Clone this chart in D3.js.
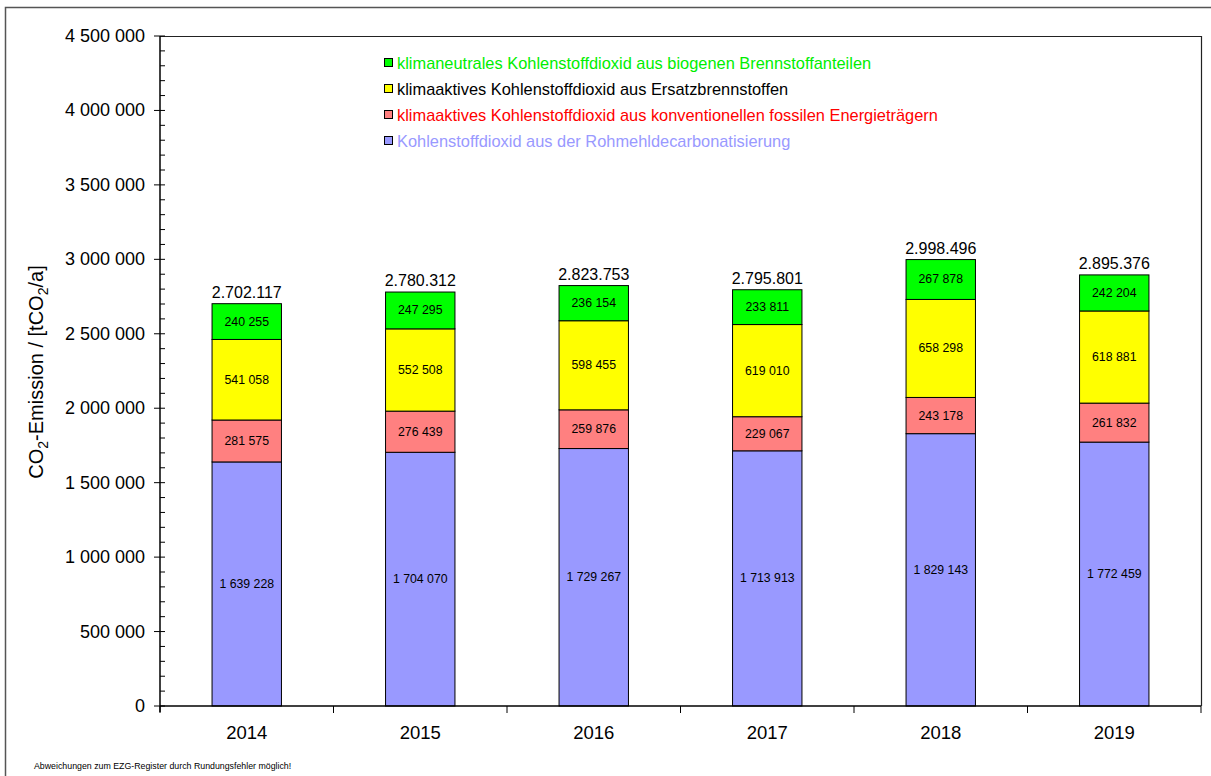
<!DOCTYPE html>
<html>
<head>
<meta charset="utf-8">
<script src="https://cdn.jsdelivr.net/npm/d3@7"></script>
<style>
  body { margin: 0; background: #fff; }
  svg { display: block; font-family: "Liberation Sans", Arial, sans-serif; }
</style>
</head>
<body>
<svg id="chart" width="1211" height="776"></svg>
<script>
// data
var years = ["2014", "2015", "2016", "2017", "2018", "2019"];
var rohmehl = [1639228, 1704070, 1729267, 1713913, 1829143, 1772459];
var fossil = [281575, 276439, 259876, 229067, 243178, 261832];
var ersatz = [541058, 552508, 598455, 619010, 658298, 618881];
var biogen = [240255, 247295, 236154, 233811, 267878, 242204];
var totalLabels = ["2.702.117", "2.780.312", "2.823.753", "2.795.801", "2.998.496", "2.895.376"];
var yTicks = [0, 500000, 1000000, 1500000, 2000000, 2500000, 3000000, 3500000, 4000000, 4500000];

var seriesKeys = ["rohmehl", "fossil", "ersatz", "biogen"];
var fills = { rohmehl: "#9999ff", fossil: "#ff8080", ersatz: "#ffff00", biogen: "#00ff00" };
var legendItems = [
  { key: "biogen", text: "klimaneutrales Kohlenstoffdioxid aus biogenen Brennstoffanteilen", color: "#00ee00" },
  { key: "ersatz", text: "klimaaktives Kohlenstoffdioxid aus Ersatzbrennstoffen", color: "#000000" },
  { key: "fossil", text: "klimaaktives Kohlenstoffdioxid aus konventionellen fossilen Energieträgern", color: "#ff0000" },
  { key: "rohmehl", text: "Kohlenstoffdioxid aus der Rohmehldecarbonatisierung", color: "#9999ff" }
];

var rows = years.map(function (yr, i) {
  return { year: yr, rohmehl: rohmehl[i], fossil: fossil[i], ersatz: ersatz[i], biogen: biogen[i], label: totalLabels[i] };
});

var svg = d3.select("#chart");
var plotL = 160, plotR = 1201, plotT = 36, plotB = 706;

// outer frame
svg.append("rect")
  .attr("x", 5.5).attr("y", 7.5).attr("width", 1220).attr("height", 800)
  .attr("fill", "none").attr("stroke", "#555").attr("stroke-width", 1.5);

var x = d3.scaleBand().domain(years).range([plotL, plotR]).paddingInner(0).paddingOuter(0);
var y = d3.scaleLinear().domain([0, 4500000]).range([plotB, plotT]);

var fmt = function (v) { return d3.format(",")(v).replace(/,/g, " "); };

// plot border (top + right)
svg.append("path")
  .attr("d", "M" + plotL + "," + (plotT + 0.5) + "H" + (plotR + 0.5) + "V" + plotB)
  .attr("fill", "none").attr("stroke", "#222").attr("stroke-width", 1.2);

var stacked = d3.stack().keys(seriesKeys)(rows);
var bw = x.bandwidth() * 0.4;

var layers = svg.selectAll("g.layer")
  .data(stacked)
  .enter().append("g")
  .attr("class", "layer")
  .attr("fill", function (d) { return fills[d.key]; });

layers.selectAll("rect")
  .data(function (d) { return d; })
  .enter().append("rect")
  .attr("x", function (d) { return x(d.data.year) + (x.bandwidth() - bw) / 2; })
  .attr("y", function (d) { return y(d[1]); })
  .attr("width", bw)
  .attr("height", function (d) { return y(d[0]) - y(d[1]); })
  .attr("stroke", "#000").attr("stroke-width", 1);

layers.selectAll("text")
  .data(function (d) { return d.map(function (p) { return { p: p, key: d.key }; }); })
  .enter().append("text")
  .attr("x", function (d) { return x(d.p.data.year) + x.bandwidth() / 2; })
  .attr("y", function (d) { return (y(d.p[0]) + y(d.p[1])) / 2 + 4; })
  .attr("text-anchor", "middle")
  .attr("fill", "#000")
  .style("font-size", "12.3px")
  .text(function (d) { return fmt(d.p.data[d.key]); });

// totals above bars
svg.selectAll("text.total")
  .data(rows)
  .enter().append("text")
  .attr("class", "total")
  .attr("x", function (d) { return x(d.year) + x.bandwidth() / 2; })
  .attr("y", function (d) { return y(d.rohmehl + d.fossil + d.ersatz + d.biogen) - 6; })
  .attr("text-anchor", "middle")
  .style("font-size", "16px")
  .text(function (d) { return d.label; });

// y axis
var yAxis = svg.append("g").attr("transform", "translate(" + plotL + ",0)");
yAxis.append("line").attr("x1", 0).attr("x2", 0).attr("y1", plotT).attr("y2", plotB + 6)
  .attr("stroke", "#000").attr("stroke-width", 1.5);
var minor = d3.range(0, 4500001, 100000);
yAxis.selectAll("line.minor").data(minor).enter().append("line")
  .attr("x1", 0).attr("x2", 5)
  .attr("y1", function (d) { return y(d); }).attr("y2", function (d) { return y(d); })
  .attr("stroke", "#000");
yAxis.selectAll("line.major").data(yTicks).enter().append("line")
  .attr("x1", -6).attr("x2", 0)
  .attr("y1", function (d) { return y(d); }).attr("y2", function (d) { return y(d); })
  .attr("stroke", "#000");
yAxis.selectAll("text").data(yTicks).enter().append("text")
  .attr("x", -15).attr("y", function (d) { return y(d) + 6; })
  .attr("text-anchor", "end")
  .style("font-size", "18px")
  .text(function (d) { return fmt(d); });

// x axis
var xAxis = svg.append("g").attr("transform", "translate(0," + plotB + ")");
xAxis.append("line").attr("x1", plotL).attr("x2", plotR).attr("y1", 0).attr("y2", 0)
  .attr("stroke", "#000").attr("stroke-width", 1.5);
var bounds = years.map(function (d) { return x(d); }).concat([plotR]);
xAxis.selectAll("line.tick").data(bounds).enter().append("line")
  .attr("x1", function (d) { return d; }).attr("x2", function (d) { return d; })
  .attr("y1", 0).attr("y2", 7)
  .attr("stroke", "#000");
xAxis.selectAll("text").data(years).enter().append("text")
  .attr("x", function (d) { return x(d) + x.bandwidth() / 2; })
  .attr("y", 33)
  .attr("text-anchor", "middle")
  .style("font-size", "18.5px")
  .text(function (d) { return d; });

// y label
var yl = svg.append("text")
  .attr("transform", "translate(43,372) rotate(-90)")
  .attr("text-anchor", "middle")
  .style("font-size", "20px");
yl.append("tspan").text("CO");
yl.append("tspan").attr("dy", 5).style("font-size", "14px").text("2");
yl.append("tspan").attr("dy", -5).text("-Emission / [tCO");
yl.append("tspan").attr("dy", 5).style("font-size", "14px").text("2");
yl.append("tspan").attr("dy", -5).text("/a]");

// legend
var lg = svg.selectAll("g.legend").data(legendItems).enter().append("g")
  .attr("class", "legend")
  .attr("transform", function (d, i) { return "translate(384," + (63 + i * 26) + ")"; });
lg.append("rect").attr("x", 0.5).attr("y", -4.5).attr("width", 8).attr("height", 8)
  .attr("fill", function (d) { return fills[d.key]; })
  .attr("stroke", "#000").attr("stroke-width", 1);
lg.append("text").attr("x", 13).attr("y", 5.5)
  .attr("fill", function (d) { return d.color; })
  .style("font-size", "16.4px")
  .text(function (d) { return d.text; });

// note
svg.append("text").attr("x", 34).attr("y", 769)
  .style("font-size", "8.8px")
  .text("Abweichungen zum EZG-Register durch Rundungsfehler möglich!");
</script>
</body>
</html>
